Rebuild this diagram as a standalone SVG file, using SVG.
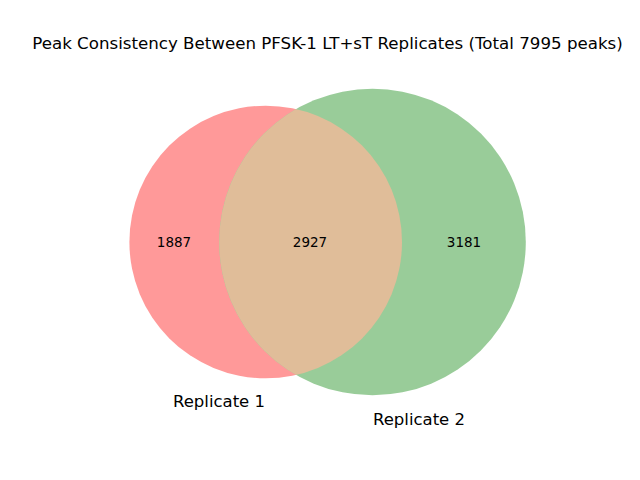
<svg xmlns="http://www.w3.org/2000/svg" width="640" height="480" viewBox="0 0 640 480">
<style>
text{font-family:"DejaVu Sans",sans-serif;fill:#000}
.num{font-size:13.5px;text-anchor:middle}
.lab{font-size:16.5px;text-anchor:middle}
.title{font-size:16.67px;text-anchor:middle}
</style>
<defs>
<clipPath id="c1"><circle cx="265.7" cy="242" r="136.3"/></clipPath>
</defs>
<rect width="640" height="480" fill="#ffffff"/>
<g id="A"><circle cx="265.7" cy="242" r="136.3" fill="#ff9999"/></g>
<g id="B"><circle cx="372.5" cy="242" r="153.3" fill="#99cc99"/></g>
<g id="AB"><circle cx="372.5" cy="242" r="153.3" fill="#e0bd99" clip-path="url(#c1)"/></g>
<g id="connectors"/>
<text class="title" x="327.5" y="49">Peak Consistency Between PFSK-1 LT+sT Replicates (Total 7995 peaks)</text>
<text class="num" x="174" y="246.5">1887</text>
<text class="num" x="310" y="246.5">2927</text>
<text class="num" x="464" y="246.5">3181</text>
<text class="lab" x="219" y="407">Replicate 1</text>
<text class="lab" x="419" y="425">Replicate 2</text>
</svg>
